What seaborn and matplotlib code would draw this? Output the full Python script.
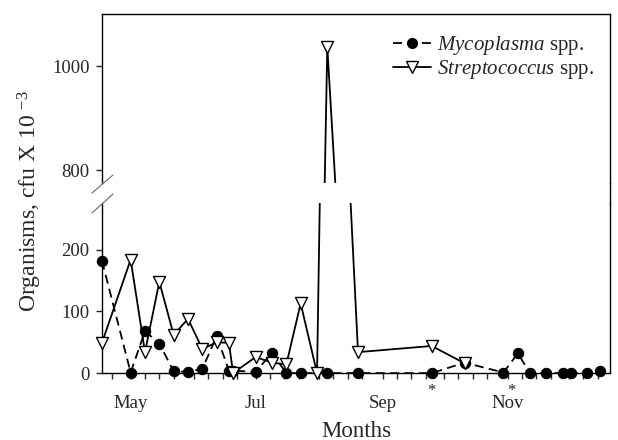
import matplotlib
matplotlib.use("Agg")
import matplotlib.pyplot as plt
import matplotlib.dates as mdates
import matplotlib.transforms as mtransforms
from matplotlib.lines import Line2D
import pandas as pd
import seaborn as sns

# sampling dates and counts (cfu x 10^-3)
myco_dates = ['2002-04-17', '2002-05-01', '2002-05-08', '2002-05-15', '2002-05-22',
              '2002-05-29', '2002-06-05', '2002-06-12', '2002-06-18', '2002-06-20',
              '2002-07-01', '2002-07-09', '2002-07-16', '2002-07-23', '2002-08-05',
              '2002-08-20', '2002-09-25', '2002-10-11', '2002-10-30', '2002-11-06',
              '2002-11-12', '2002-11-20', '2002-11-28', '2002-12-02', '2002-12-10',
              '2002-12-16']
myco_values = [182, 1, 68, 48, 3, 2, 7, 60, 4, 4,
               2, 33, 0, 0, 0, 0, 0, 17, 1, 32,
               0, 0, 0, 0, 0, 3]

strep_dates = ['2002-04-17', '2002-05-01', '2002-05-08', '2002-05-15', '2002-05-22',
               '2002-05-29', '2002-06-05', '2002-06-12', '2002-06-18', '2002-06-20',
               '2002-07-01', '2002-07-09', '2002-07-16', '2002-07-23', '2002-07-31',
               '2002-08-05', '2002-08-20', '2002-09-25', '2002-10-11']
strep_values = [49, 184, 34, 148, 62, 88, 39, 50, 49, 0,
                26, 17, 14, 113, 0, 1037, 34, 44, 16]

star_dates = ['2002-09-25', '2002-11-03']

labels = [r'$\mathit{Mycoplasma}$ spp.', r'$\mathit{Streptococcus}$ spp.']

sns.set_style("ticks")
plt.rcParams['font.family'] = ['Liberation Serif', 'DejaVu Serif']
plt.rcParams['mathtext.fontset'] = 'custom'
plt.rcParams['mathtext.rm'] = 'Liberation Serif'
plt.rcParams['mathtext.it'] = 'Liberation Serif:italic'

myco = pd.DataFrame({'date': pd.to_datetime(myco_dates), 'cfu': myco_values})
strep = pd.DataFrame({'date': pd.to_datetime(strep_dates), 'cfu': strep_values})

fig = plt.figure(figsize=(6.18, 4.40), dpi=100)
ax_top = fig.add_axes([0.165, 0.584, 0.822, 0.384])
ax_bot = fig.add_axes([0.165, 0.152, 0.822, 0.387])

dash = (0, (5, 3))
limits = {ax_top: (775, 1100), ax_bot: (0, 276)}

for ax, (lo, hi) in limits.items():
    sns.lineplot(data=myco, x='date', y='cfu', ax=ax, color='black', lw=1.3,
                 linestyle=dash, estimator=None)
    sns.lineplot(data=strep, x='date', y='cfu', ax=ax, color='black', lw=1.3,
                 estimator=None)
    m = myco[(myco.cfu >= lo) & (myco.cfu <= hi)]
    s = strep[(strep.cfu >= lo) & (strep.cfu <= hi)]
    if len(m):
        sns.scatterplot(data=m, x='date', y='cfu', ax=ax, marker='o', s=55,
                        color='black', edgecolor='black', linewidth=0.8,
                        clip_on=False, zorder=4)
    if len(s):
        sns.scatterplot(data=s, x='date', y='cfu', ax=ax, marker='v', s=75,
                        color='white', edgecolor='black', linewidth=1.0,
                        clip_on=False, zorder=5)
    ax.set_ylim(lo, hi)
    ax.set_xlim(pd.Timestamp('2002-04-17'), pd.Timestamp('2002-12-21'))
    ax.set_xlabel('')
    ax.set_ylabel('')
    for sp in ax.spines.values():
        sp.set_linewidth(1.0)
        sp.set_color('black')
    ax.tick_params(axis='y', direction='out', length=4, width=1, labelsize=13.5, pad=5)

ax_top.set_yticks([800, 1000])
ax_bot.set_yticks([0, 100, 200])
ax_top.spines['bottom'].set_visible(False)
ax_bot.spines['top'].set_visible(False)
ax_top.tick_params(axis='x', which='both', bottom=False, labelbottom=False)

ax_bot.xaxis.set_major_locator(mdates.MonthLocator(bymonth=[5, 7, 9, 11]))
ax_bot.xaxis.set_major_formatter(mdates.DateFormatter('%b'))
ax_bot.xaxis.set_minor_locator(mdates.DayLocator(bymonthday=[1, 8, 15, 22]))
ax_bot.tick_params(axis='x', which='both', direction='out', length=4, width=1,
                   labelsize=13.5, pad=12)

# asterisks under the x axis
trans = mtransforms.blended_transform_factory(ax_bot.transData, ax_bot.transAxes)
for d in star_dates:
    ax_bot.text(mdates.date2num(pd.Timestamp(d)), -0.13, '*', transform=trans,
                ha='center', va='baseline', fontsize=12)

# axis break marks and continuous right frame
for (x0, y0, x1, y1) in [(92, 193, 113, 175), (92, 213, 113, 194)]:
    fig.add_artist(Line2D([x0 / 618, x1 / 618], [1 - y0 / 440, 1 - y1 / 440],
                          color='#777777', lw=0.9))
fig.add_artist(Line2D([0.987, 0.987], [0.538, 0.585], color='black', lw=1.0))

handles = [
    Line2D([], [], color='black', lw=1.3, linestyle=dash, marker='o',
           markersize=7, markerfacecolor='black', markeredgecolor='black'),
    Line2D([], [], color='black', lw=1.3, marker='v', markersize=8,
           markerfacecolor='white', markeredgecolor='black'),
]
ax_top.legend(handles, labels, loc='upper right', bbox_to_anchor=(0.985, 0.93),
              frameon=False, fontsize=15, handlelength=1.8, handletextpad=0.3,
              labelspacing=0.05, borderaxespad=0)

fig.text(30 / 618, 1 - 201 / 440, r'Organisms, cfu X 10 $^{-3}$', rotation=90,
         ha='center', va='center', fontsize=17)
fig.text(356 / 618, 1 - 431 / 440, 'Months', ha='center', va='center', fontsize=16.5)

fig.savefig('out.png', dpi=100)
